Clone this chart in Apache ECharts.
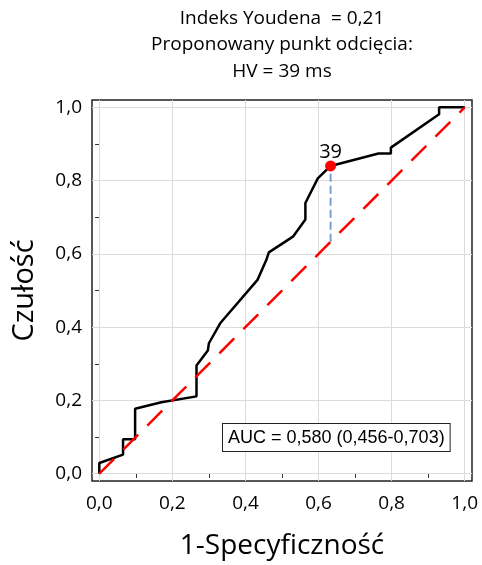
<!DOCTYPE html>
<html>
<head>
<meta charset="utf-8">
<script src="https://cdn.jsdelivr.net/npm/echarts@6/dist/echarts.min.js"></script>
<style>html,body{margin:0;padding:0;background:#fff;}#c{width:482px;height:565px;}</style>
</head>
<body>
<div id="c"></div>
<script>
// ---- data ----
const rocX = [0, 0, 0.065, 0.065, 0.098, 0.098, 0.17, 0.266, 0.266, 0.297, 0.300, 0.332, 0.433, 0.457, 0.464, 0.530, 0.564, 0.564, 0.598, 0.633, 0.764, 0.798, 0.798, 0.930, 0.930, 1.0];
const rocY = [0, 0.029, 0.052, 0.094, 0.094, 0.177, 0.195, 0.211, 0.295, 0.336, 0.356, 0.412, 0.529, 0.583, 0.604, 0.647, 0.694, 0.739, 0.806, 0.840, 0.874, 0.874, 0.890, 0.981, 1.0, 1.0];
const diagX = [0, 1];
const diagY = [0, 1];
const cutX = 0.633;
const cutY = 0.840;
const cutLabel = '39';
const gridValues = [0, 0.2, 0.4, 0.6, 0.8, 1.0];
const xTickLabels = ['0,0', '0,2', '0,4', '0,6', '0,8', '1,0'];
const yTickLabels = ['0,0', '0,2', '0,4', '0,6', '0,8', '1,0'];
const titleLines = ['Indeks Youdena  = 0,21', 'Proponowany punkt odcięcia:', 'HV = 39 ms'];
const xName = '1-Specyficzność';
const yName = 'Czułość';
const aucText = 'AUC = 0,580 (0,456-0,703)';

// ---- layout ----
const xMin = -0.02, xMax = 1.02, yMin = -0.02, yMax = 1.02;
const frame = {left: 92, top: 100, width: 380, height: 381};
const inL = frame.left + frame.width * (0 - xMin) / (xMax - xMin);
const inR = frame.left + frame.width * (1 - xMin) / (xMax - xMin);
const inT = frame.top + frame.height * (yMax - 1) / (yMax - yMin);
const inB = frame.top + frame.height * (yMax - 0) / (yMax - yMin);
const offX = (frame.left + frame.width) - inR;
const offL = inL - frame.left;
const offT = inT - frame.top;
const offB = (frame.top + frame.height) - inB;

const font = 'Open Sans';
const fmtX = v => xTickLabels[Math.round(v / 0.2)];
const fmtY = v => yTickLabels[Math.round(v / 0.2)];

const chart = echarts.init(document.getElementById('c'), null, {renderer: 'canvas'});

const tickCommon = {show: true, length: 4, lineStyle: {color: '#333', width: 1}};
const minorCommon = {show: true, splitNumber: 2, length: 4, lineStyle: {color: '#333', width: 1}};

const option = {
  animation: false,
  backgroundColor: '#fff',
  grid: [
    {left: frame.left, top: frame.top, width: frame.width, height: frame.height, show: true, borderColor: '#222', borderWidth: 1.5, backgroundColor: 'transparent', z: 0},
    {left: inL, top: inT, width: inR - inL, height: inB - inT, show: false}
  ],
  xAxis: [
    {gridIndex: 0, type: 'value', min: xMin, max: xMax, show: false},
    {gridIndex: 1, type: 'value', min: 0, max: 1, interval: 0.2, position: 'bottom', offset: offB,
     axisLine: {show: false}, axisTick: Object.assign({inside: false}, tickCommon),
     minorTick: minorCommon, splitLine: {show: false},
     axisLabel: {formatter: fmtX, fontFamily: font, fontSize: 19, color: '#000', margin: 13},
     name: xName, nameLocation: 'middle', nameGap: 51,
     nameTextStyle: {fontFamily: font, fontSize: 28, color: '#000'}},
    {gridIndex: 1, type: 'value', min: 0, max: 1, interval: 0.2, position: 'top', offset: offT,
     axisLine: {show: false}, axisTick: Object.assign({inside: true}, tickCommon),
     minorTick: minorCommon, splitLine: {show: false}, axisLabel: {show: false}}
  ],
  yAxis: [
    {gridIndex: 0, type: 'value', min: yMin, max: yMax, show: false},
    {gridIndex: 1, type: 'value', min: 0, max: 1, interval: 0.2, position: 'left', offset: offL,
     axisLine: {show: false}, axisTick: Object.assign({inside: false}, tickCommon),
     minorTick: minorCommon, splitLine: {show: false},
     axisLabel: {formatter: fmtY, fontFamily: font, fontSize: 19, color: '#000', margin: 10},
     name: yName, nameLocation: 'middle', nameGap: 53, nameRotate: 90,
     nameTextStyle: {fontFamily: font, fontSize: 29, color: '#000'}},
    {gridIndex: 1, type: 'value', min: 0, max: 1, interval: 0.2, position: 'right', offset: offX,
     axisLine: {show: false}, axisTick: Object.assign({inside: true}, tickCommon),
     minorTick: minorCommon, splitLine: {show: false}, axisLabel: {show: false}}
  ],
  graphic: [
    {type: 'text', x: frame.left + frame.width / 2, y: 5,
     style: {text: titleLines.join('\n'), font: '19px "Open Sans"', fill: '#000', textAlign: 'center', textVerticalAlign: 'top', lineHeight: 26.5}},
    {type: 'text', x: 223, y: 424,
     style: {text: aucText, font: '18px "Liberation Sans"', fill: '#000', textAlign: 'left', textVerticalAlign: 'top',
             backgroundColor: '#fff', borderColor: '#222', borderWidth: 1, padding: [5, 5, 4, 5]}, z: 100}
  ],
  series: [
    {type: 'line', xAxisIndex: 0, yAxisIndex: 0, data: [], z: 1, silent: true,
     markLine: {silent: true, symbol: 'none', label: {show: false}, animation: false, z: 1,
       lineStyle: {color: '#dcdcdc', width: 1, type: 'solid'},
       data: gridValues.map(v => ({xAxis: v})).concat(gridValues.map(v => ({yAxis: v})))}},
    {type: 'line', xAxisIndex: 0, yAxisIndex: 0, z: 3, showSymbol: false, symbol: 'none',
     lineStyle: {color: '#000', width: 2.5}, data: rocX.map((x, i) => [x, rocY[i]])},
    {type: 'line', xAxisIndex: 0, yAxisIndex: 0, z: 4, showSymbol: false, symbol: 'none',
     lineStyle: {color: '#ff0000', width: 2.5, type: [21, 13]}, data: diagX.map((x, i) => [x, diagY[i]])},
    {type: 'line', xAxisIndex: 0, yAxisIndex: 0, z: 5, showSymbol: false, symbol: 'none',
     lineStyle: {color: '#6f98c8', width: 1.8, type: [8, 4]}, data: [[cutX, cutX], [cutX, cutY]]},
    {type: 'scatter', xAxisIndex: 0, yAxisIndex: 0, z: 6, symbolSize: 11,
     itemStyle: {color: '#ff0000', opacity: 1}, data: [[cutX, cutY]],
     label: {show: true, position: 'top', distance: -2, formatter: cutLabel, fontFamily: font, fontSize: 20, color: '#000', opacity: 1}}
  ]
};
chart.setOption(option);
</script>
</body>
</html>
